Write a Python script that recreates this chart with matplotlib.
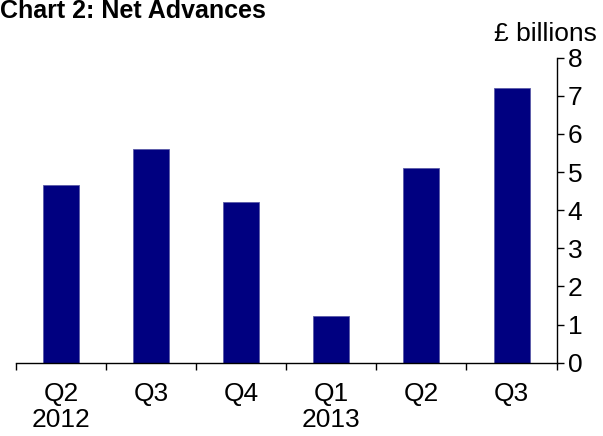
import matplotlib.pyplot as plt
import numpy as np

plt.rcParams['font.family'] = ['Liberation Sans', 'DejaVu Sans']

# Net advances, £ billions
quarters = ['Q2\n2012', 'Q3', 'Q4', 'Q1\n2013', 'Q2', 'Q3']
advances = [4.66, 5.60, 4.21, 1.22, 5.12, 7.21]
y_ticks = [0, 1, 2, 3, 4, 5, 6, 7, 8]

fig = plt.figure(figsize=(6.03, 4.36), dpi=100)
ax = fig.add_axes([0.0265, 0.168, 0.8965, 0.6997])

x = np.arange(len(quarters))
ax.bar(x, advances, width=0.4, color='#000080', edgecolor='#5a5aa8', linewidth=0.6)

ax.set_xlim(-0.5, len(quarters) - 0.5)
ax.set_ylim(0, 8)

# y axis on the right
ax.yaxis.tick_right()
ax.set_yticks(y_ticks)
ax.tick_params(axis='y', direction='out', length=5, width=1, labelsize=19, pad=3)
for s in ['top', 'left']:
    ax.spines[s].set_visible(False)
ax.spines['right'].set_linewidth(1)
ax.spines['bottom'].set_linewidth(1)

# x axis: labels at centres, tick marks at boundaries
ax.set_xticks(x)
ax.set_xticklabels(quarters, fontsize=19, linespacing=1.1, va='top')
ax.tick_params(axis='x', length=0, pad=14)
ax.set_xticks(np.arange(len(quarters) + 1) - 0.5, minor=True)
ax.tick_params(axis='x', which='minor', direction='out', length=5, width=1)

fig.text(0.0, 1 - 18.5 / 436, 'Chart 2: Net Advances', fontsize=18,
         fontweight='bold', va='baseline', ha='left')
fig.text(0.99, 1 - 41 / 436, '£ billions', fontsize=19, va='baseline', ha='right')

fig.savefig('out.png', dpi=100)
